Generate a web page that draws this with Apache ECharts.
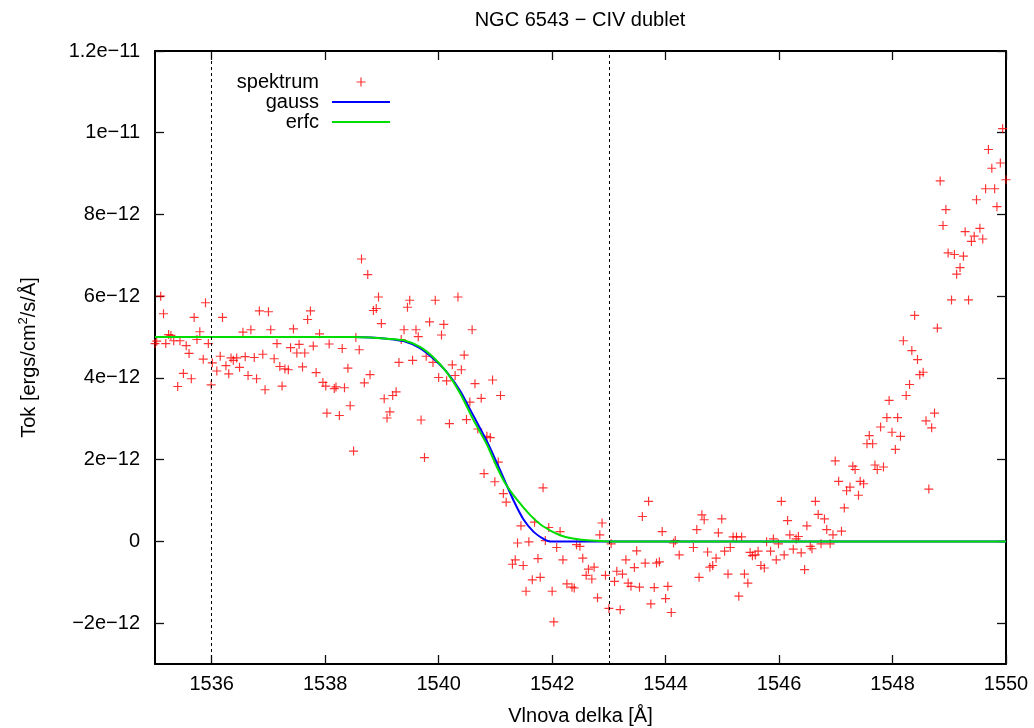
<!DOCTYPE html>
<html><head><meta charset="utf-8">
<script src="https://cdn.jsdelivr.net/npm/echarts@6/dist/echarts.min.js"></script>
<style>html,body{margin:0;padding:0;background:#fff}#c{width:1034px;height:728px}</style>
</head><body><div id="c"></div>
<script>
const FONT = '"Liberation Sans", Arial, Helvetica, sans-serif';

// spectrum: wavelength [Å] and flux in units of 1e-12 ergs/cm2/s/Å
const specX = [1535.00,1535.03,1535.10,1535.15,1535.19,1535.24,1535.28,1535.33,1535.40,1535.44,1535.50,1535.55,1535.60,1535.64,1535.69,1535.74,1535.79,1535.85,1535.89,1535.94,1535.99,1536.01,1536.09,1536.15,1536.19,1536.25,1536.30,1536.34,1536.38,1536.44,1536.49,1536.55,1536.59,1536.64,1536.69,1536.75,1536.79,1536.84,1536.90,1536.94,1537.00,1537.04,1537.10,1537.15,1537.20,1537.24,1537.29,1537.35,1537.39,1537.44,1537.50,1537.54,1537.60,1537.64,1537.69,1537.74,1537.79,1537.84,1537.90,1537.96,1538.01,1538.03,1538.07,1538.16,1538.19,1538.25,1538.30,1538.34,1538.40,1538.44,1538.50,1538.54,1538.60,1538.64,1538.69,1538.75,1538.79,1538.85,1538.90,1538.94,1538.99,1539.04,1539.09,1539.14,1539.19,1539.25,1539.30,1539.34,1539.39,1539.45,1539.49,1539.54,1539.60,1539.64,1539.69,1539.75,1539.78,1539.84,1539.90,1539.94,1540.00,1540.05,1540.09,1540.14,1540.19,1540.24,1540.29,1540.34,1540.40,1540.45,1540.49,1540.55,1540.59,1540.64,1540.69,1540.75,1540.80,1540.85,1540.91,1540.95,1540.99,1541.05,1541.09,1541.14,1541.19,1541.30,1541.35,1541.39,1541.45,1541.49,1541.54,1541.59,1541.65,1541.69,1541.75,1541.79,1541.84,1541.88,1541.94,1542.00,1542.03,1542.08,1542.14,1542.19,1542.26,1542.35,1542.39,1542.43,1542.49,1542.54,1542.60,1542.64,1542.70,1542.74,1542.80,1542.84,1542.88,1542.94,1543.00,1543.04,1543.10,1543.14,1543.20,1543.24,1543.30,1543.34,1543.39,1543.45,1543.49,1543.54,1543.59,1543.64,1543.70,1543.74,1543.80,1543.84,1543.89,1543.94,1544.00,1544.04,1544.10,1544.14,1544.17,1544.24,1544.49,1544.55,1544.59,1544.64,1544.68,1544.74,1544.78,1544.83,1544.89,1544.93,1544.99,1545.04,1545.10,1545.14,1545.19,1545.25,1545.29,1545.34,1545.39,1545.45,1545.49,1545.53,1545.58,1545.63,1545.68,1545.74,1545.78,1545.85,1545.90,1545.95,1545.99,1546.04,1546.09,1546.15,1546.19,1546.25,1546.30,1546.34,1546.39,1546.45,1546.49,1546.55,1546.58,1546.64,1546.69,1546.74,1546.80,1546.84,1546.90,1546.95,1546.99,1547.05,1547.10,1547.15,1547.19,1547.25,1547.30,1547.34,1547.40,1547.43,1547.49,1547.55,1547.59,1547.65,1547.69,1547.73,1547.79,1547.84,1547.90,1547.94,1547.99,1548.05,1548.09,1548.14,1548.19,1548.24,1548.30,1548.34,1548.39,1548.44,1548.48,1548.54,1548.59,1548.64,1548.69,1548.74,1548.79,1548.84,1548.89,1548.94,1548.98,1549.04,1549.09,1549.13,1549.19,1549.25,1549.28,1549.34,1549.39,1549.44,1549.48,1549.54,1549.59,1549.64,1549.69,1549.75,1549.80,1549.84,1549.90,1549.94,1550.00];
const specY = [4.84,4.90,6.00,5.57,4.84,5.06,5.04,4.91,3.79,4.91,4.11,4.79,4.60,3.98,5.48,4.94,5.13,4.46,5.84,4.84,3.83,4.37,4.17,4.53,5.48,4.30,4.10,4.49,4.43,4.49,4.26,5.12,4.52,4.06,5.18,4.50,3.98,5.64,4.58,3.71,5.62,5.18,4.47,4.84,4.28,3.80,4.22,4.20,4.74,5.20,4.61,4.82,4.27,4.61,5.43,5.64,4.78,4.13,5.08,3.89,3.80,3.14,4.83,3.74,3.78,3.08,4.72,3.76,4.24,3.32,2.21,4.99,4.69,6.91,3.88,6.53,4.08,5.65,5.70,5.98,5.33,3.49,3.02,3.17,3.57,3.66,4.38,4.94,5.18,5.73,5.90,4.43,5.18,5.01,2.97,2.05,4.53,5.37,4.38,5.90,4.01,5.05,5.31,3.93,2.88,4.32,4.06,5.98,4.20,4.56,2.98,3.41,5.18,3.86,2.75,3.50,1.66,2.57,2.54,3.95,1.46,1.94,3.57,1.17,0.96,-0.56,-0.45,-0.04,0.38,-0.59,-1.22,-0.01,-0.94,0.47,-0.42,-0.88,1.31,0.02,0.34,-1.22,-1.97,-0.15,0.24,-0.45,-1.04,-1.12,-1.14,-0.08,-0.12,-0.41,-0.83,-0.68,-0.92,-0.63,-1.38,0.16,0.45,-0.83,-1.64,-0.06,-0.98,-0.73,-1.67,-0.80,-0.45,-1.02,-1.10,-0.64,-0.23,-1.12,0.61,-0.53,0.98,-1.53,-1.13,-0.53,-0.50,0.24,-1.40,-1.10,-1.74,-0.04,0.02,-0.33,-0.15,0.29,-0.88,0.65,0.53,-0.26,-0.63,-0.59,-0.41,0.21,0.55,-0.24,-0.80,-0.15,0.11,0.11,-1.34,0.11,-0.80,-1.02,-0.27,-0.35,-0.33,-0.24,-0.59,-0.65,-0.01,-0.24,0.06,-0.45,-0.06,0.98,-0.33,0.51,0.16,-0.19,0.06,0.12,-0.28,-0.69,0.38,-0.12,-0.18,0.98,0.66,-0.06,0.55,0.29,-0.06,0.16,1.97,1.47,0.25,0.82,1.24,1.33,1.84,1.76,1.13,1.47,1.41,2.39,2.59,2.39,1.87,1.76,2.80,1.82,3.03,3.45,2.67,2.25,3.03,2.57,4.91,3.57,3.84,4.67,5.53,4.45,4.08,4.14,2.95,1.28,2.78,3.14,5.22,8.82,7.73,8.12,7.06,5.91,7.02,6.54,6.70,6.98,7.58,5.91,7.34,7.47,8.36,7.66,7.40,8.63,9.59,9.13,8.63,8.19,9.26,10.10,8.85];

// fitted curves (same units)
const gaussX = [1535.00,1538.50,1538.80,1539.08,1539.38,1539.67,1539.91,1540.14,1540.38,1540.61,1540.85,1541.00,1541.17,1541.32,1541.49,1541.67,1541.84,1541.96,1550.00];
const gaussY = [5.00,5.00,4.99,4.96,4.90,4.73,4.47,4.15,3.68,3.08,2.45,2.00,1.47,1.00,0.55,0.24,0.07,0.00,0.00];
const erfcX = [1535.00,1538.50,1538.80,1539.08,1539.38,1539.67,1539.91,1540.14,1540.38,1540.61,1540.85,1541.02,1541.17,1541.38,1541.61,1541.84,1542.14,1542.37,1542.67,1543.00,1550.00];
const erfcY = [5.00,5.00,4.99,4.96,4.92,4.76,4.50,4.14,3.62,2.98,2.37,1.84,1.43,1.02,0.65,0.37,0.15,0.07,0.02,0.00,0.00];

const xTickValues = [1536,1538,1540,1542,1544,1546,1548,1550];
const xTickLabels = ['1536','1538','1540','1542','1544','1546','1548','1550'];
const yTickValues = [-2,0,2,4,6,8,10,12];
const yTickLabels = ['\u22122e\u221212','0','2e\u221212','4e\u221212','6e\u221212','8e\u221212','1e\u221211','1.2e\u221211'];
const markerLines = [1536, 1543];

const zip = (xs, ys) => xs.map((x, i) => [x, ys[i]]);
const PLUS = 'path://M4.35,0H5.65V4.35H10V5.65H5.65V10H4.35V5.65H0V4.35H4.35Z';
const PLUS_ICON = 'path://M0,0M14,14M6.4,2.5H7.6V6.4H11.5V7.6H7.6V11.5H6.4V7.6H2.5V6.4H6.4Z';
const LINE_ICON = 'path://M0,0M58,14M0,6H58V8H0Z';

const axisLineStyle = { color: '#000', width: 2 };
const tickStyle = { color: '#111', width: 1.3 };
const txt = { fontFamily: FONT, fontSize: 20, color: '#000' };

function lookup(values, labels) {
  return function (v) {
    for (let i = 0; i < values.length; i++) if (Math.abs(v - values[i]) < 1e-9) return labels[i];
    return '';
  };
}

const chart = echarts.init(document.getElementById('c'), null, { renderer: 'canvas' });
chart.setOption({
  animation: false,
  backgroundColor: '#fff',
  title: {
    text: 'NGC 6543 \u2212 CIV dublet', left: 580, textAlign: 'center', top: 10, padding: 0,
    textStyle: Object.assign({ fontWeight: 'normal' }, txt)
  },
  legend: {
    orient: 'vertical', left: 229, top: 72, padding: 0, itemGap: 0,
    itemWidth: 58, itemHeight: 14, align: 'right', selectedMode: false,
    textStyle: Object.assign({ width: 90, align: 'right', lineHeight: 20, padding: [0, 8, 0, 0] }, txt),
    data: [
      { name: 'spektrum', icon: PLUS_ICON },
      { name: 'gauss', icon: LINE_ICON },
      { name: 'erfc', icon: LINE_ICON }
    ]
  },
  grid: { left: 155, right: 28, top: 51, bottom: 64, containLabel: false, outerBoundsMode: 'none' },
  xAxis: [
    {
      type: 'value', min: 1535, max: 1550, position: 'bottom',
      axisLine: { show: true, onZero: false, lineStyle: axisLineStyle },
      axisTick: { show: true, inside: true, length: 9, customValues: xTickValues, lineStyle: tickStyle },
      axisLabel: Object.assign({ customValues: xTickValues, margin: 10, formatter: lookup(xTickValues, xTickLabels) }, txt),
      splitLine: { show: false },
      name: 'Vlnova delka [\u00c5]', nameLocation: 'middle', nameGap: 42, nameTextStyle: txt
    },
    {
      type: 'value', min: 1535, max: 1550, position: 'top',
      axisLine: { show: true, onZero: false, lineStyle: axisLineStyle },
      axisTick: { show: true, inside: true, length: 9, customValues: xTickValues, lineStyle: tickStyle },
      axisLabel: { show: false }, splitLine: { show: false }
    }
  ],
  yAxis: [
    {
      type: 'value', min: -3, max: 12, position: 'left',
      axisLine: { show: true, onZero: false, lineStyle: axisLineStyle },
      axisTick: { show: true, inside: true, length: 9, customValues: yTickValues, lineStyle: tickStyle },
      axisLabel: Object.assign({ customValues: yTickValues, margin: 15, formatter: lookup(yTickValues, yTickLabels) }, txt),
      splitLine: { show: false },
      name: 'Tok [ergs/cm{sup|2}/s/\u00c5]', nameLocation: 'middle', nameGap: 114,
      nameTextStyle: Object.assign({ lineHeight: 24, rich: { sup: { fontFamily: FONT, fontSize: 13, color: '#000', lineHeight: 14, verticalAlign: 'top' } } }, txt)
    },
    {
      type: 'value', min: -3, max: 12, position: 'right',
      axisLine: { show: true, onZero: false, lineStyle: axisLineStyle },
      axisTick: { show: true, inside: true, length: 9, customValues: yTickValues, lineStyle: tickStyle },
      axisLabel: { show: false }, splitLine: { show: false }
    }
  ],
  series: [
    {
      name: 'spektrum', type: 'scatter', xAxisIndex: 0, yAxisIndex: 0,
      data: zip(specX, specY), symbol: PLUS, symbolSize: 9, symbolKeepAspect: true,
      itemStyle: { color: '#ff0000' }, clip: false,
      markLine: {
        silent: true, symbol: ['none', 'none'], label: { show: false },
        lineStyle: { type: [3, 3], color: '#000', width: 1 },
        data: markerLines.map(x => ({ xAxis: x }))
      }
    },
    {
      name: 'gauss', type: 'line', xAxisIndex: 0, yAxisIndex: 0,
      data: zip(gaussX, gaussY), symbol: 'none', showSymbol: false, smooth: 0.25,
      lineStyle: { color: '#0000ff', width: 2 }, itemStyle: { color: '#0000ff' }
    },
    {
      name: 'erfc', type: 'line', xAxisIndex: 0, yAxisIndex: 0,
      data: zip(erfcX, erfcY), symbol: 'none', showSymbol: false, smooth: 0.25,
      lineStyle: { color: '#00dd00', width: 2 }, itemStyle: { color: '#00dd00' }
    }
  ]
});
</script></body></html>
